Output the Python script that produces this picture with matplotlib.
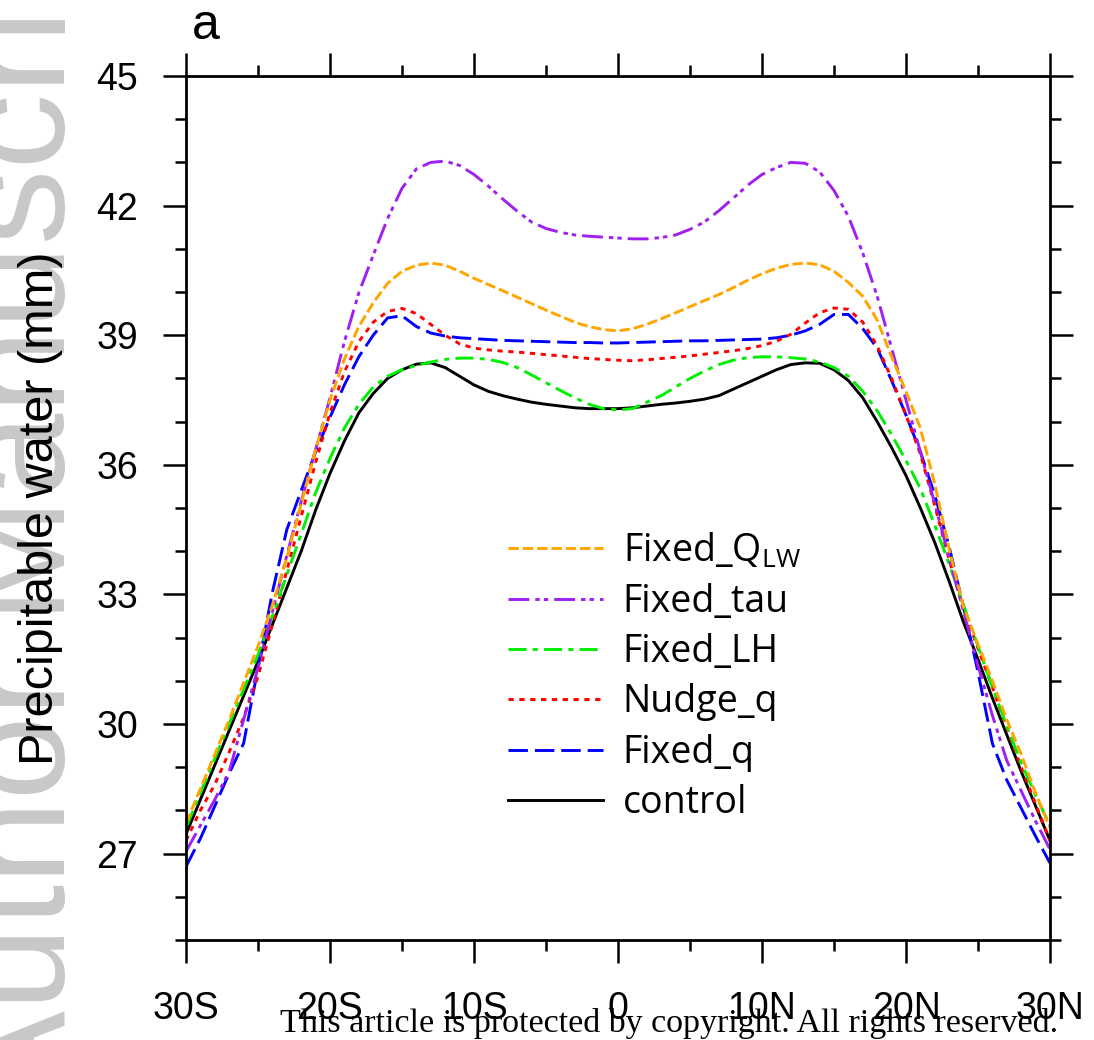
import numpy as np
import matplotlib
matplotlib.use("Agg")
import matplotlib.pyplot as plt
from matplotlib.ticker import MultipleLocator

plt.rcParams['font.family'] = ['Liberation Sans', 'DejaVu Sans']
plt.rcParams['lines.scale_dashes'] = False

# latitude, 1 degree steps
lat = list(range(-30, 31))

control = [27.45, 28.25, 29.05, 29.85, 30.65, 31.45, 32.3, 33.15, 34.0, 34.95,
           35.8, 36.55, 37.2, 37.65, 38.0, 38.2, 38.33, 38.36, 38.25, 38.05,
           37.85, 37.7, 37.6, 37.52, 37.45, 37.4, 37.36, 37.32, 37.3, 37.3,
           37.3, 37.32, 37.36, 37.4, 37.43, 37.47, 37.52, 37.6, 37.75, 37.9,
           38.05, 38.2, 38.32, 38.36, 38.35, 38.2, 37.95, 37.55, 37.0, 36.4,
           35.75, 35.0, 34.2, 33.3, 32.35, 31.5, 30.6, 29.75, 28.9, 28.1, 27.3]

fixed_lh = [27.6, 28.4, 29.2, 30.0, 30.8, 31.6, 32.5, 33.45, 34.4, 35.35,
            36.15, 36.85, 37.4, 37.8, 38.05, 38.2, 38.3, 38.38, 38.44, 38.47,
            38.47, 38.44, 38.37, 38.25, 38.08, 37.9, 37.72, 37.55, 37.4, 37.3,
            37.27, 37.3, 37.45, 37.6, 37.8, 38.0, 38.17, 38.32, 38.42, 38.48,
            38.5, 38.5, 38.48, 38.45, 38.38, 38.25, 38.05, 37.7, 37.25, 36.7,
            36.1, 35.45, 34.6, 33.7, 32.75, 31.8, 30.85, 29.95, 29.1, 28.35, 27.65]

fixed_qlw = [27.7, 28.5, 29.3, 30.1, 30.95, 31.8, 32.75, 33.85, 35.1, 36.35,
             37.5, 38.45, 39.2, 39.75, 40.2, 40.48, 40.62, 40.67, 40.62, 40.48,
             40.32, 40.17, 40.03, 39.88, 39.73, 39.58, 39.44, 39.3, 39.2, 39.13,
             39.1, 39.15, 39.25, 39.38, 39.52, 39.66, 39.8, 39.94, 40.1, 40.27,
             40.42, 40.55, 40.64, 40.67, 40.63, 40.48, 40.22, 39.9, 39.35, 38.5,
             37.7, 36.85, 35.55, 34.05, 32.7, 31.85, 31.0, 30.1, 29.3, 28.4, 27.6]

fixed_tau = [27.05, 27.65, 28.25, 28.9, 30.1, 31.3, 32.6, 33.9, 35.15, 36.35,
             37.55, 38.85, 39.98, 40.85, 41.7, 42.4, 42.85, 43.0, 43.03, 42.93,
             42.72, 42.45, 42.15, 41.87, 41.62, 41.47, 41.38, 41.32, 41.29, 41.27,
             41.25, 41.23, 41.23, 41.26, 41.32, 41.45, 41.62, 41.88, 42.17, 42.47,
             42.72, 42.88, 43.0, 42.98, 42.78, 42.35, 41.75, 40.9, 39.9, 38.7,
             37.5, 36.3, 35.1, 33.85, 32.6, 31.35, 30.2, 29.15, 28.45, 27.75, 27.1]

nudge_q = [27.3, 28.0, 28.6, 29.35, 30.15, 31.1, 32.3, 33.55, 34.8, 36.05,
           37.2, 38.15, 38.85, 39.3, 39.55, 39.62, 39.5, 39.25, 39.0, 38.8,
           38.7, 38.66, 38.63, 38.61, 38.58, 38.55, 38.52, 38.49, 38.46, 38.44,
           38.42, 38.41, 38.43, 38.46, 38.49, 38.52, 38.56, 38.6, 38.64, 38.69,
           38.76, 38.86, 39.02, 39.28, 39.52, 39.63, 39.6, 39.3, 38.75, 38.0,
           37.15, 36.25, 35.05, 33.8, 32.65, 31.75, 30.85, 29.9, 29.0, 28.15, 27.3]

fixed_q = [26.7, 27.35, 28.1, 28.86, 29.55, 31.3, 33.05, 34.5, 35.4, 36.3,
           37.1, 37.85, 38.5, 39.0, 39.4, 39.45, 39.2, 39.05, 38.98, 38.94,
           38.92, 38.9, 38.88, 38.87, 38.86, 38.85, 38.84, 38.83, 38.83, 38.82,
           38.82, 38.83, 38.84, 38.85, 38.86, 38.87, 38.87, 38.88, 38.89, 38.9,
           38.91, 38.94, 39.0, 39.1, 39.25, 39.48, 39.48, 39.15, 38.7, 37.95,
           37.15, 36.3, 35.3, 34.1, 32.7, 31.2, 29.55, 28.7, 28.05, 27.4, 26.78]

xticks = [-30, -20, -10, 0, 10, 20, 30]
xticklabels = ['30S', '20S', '10S', '0', '10N', '20N', '30N']
yticks = [27, 30, 33, 36, 39, 42, 45]

W, H = 1094, 1040
fig = plt.figure(figsize=(W / 100, H / 100), dpi=100)

# watermark on the left edge
fig.text(65 / W, (H - 1111) / H, 'Author Manuscript', rotation=90,
         rotation_mode='anchor', ha='left', va='baseline', fontsize=109,
         color='#c8c8c8', zorder=0)

ax = fig.add_axes([186 / W, 100 / H, 864 / W, 864 / H])
ax.set_facecolor('none')

lw = 2.1
l_ctl, = ax.plot(lat, control, color='black', lw=lw, label='control')
l_fq, = ax.plot(lat, fixed_q, color='blue', lw=lw, dashes=(14, 5),
                label='Fixed_q')
l_nq, = ax.plot(lat, nudge_q, color='red', lw=lw, dashes=(3.8, 4.0),
                label='Nudge_q')
l_lh, = ax.plot(lat, fixed_lh, color='#00ee00', lw=lw,
                dashes=(13, 4.5, 3.6, 4.5), label='Fixed_LH')
l_tau, = ax.plot(lat, fixed_tau, color='#a020f0', lw=lw,
                 dashes=(15, 4.3, 3.2, 2.9, 3.2, 4.3), label='Fixed_tau')
l_qlw, = ax.plot(lat, fixed_qlw, color='orange', lw=lw, dashes=(7.5, 2.8),
                 label=r'Fixed_Q$_\mathregular{LW}$')

ax.set_xlim(-30, 30)
ax.set_ylim(25, 45)
ax.set_xticks(xticks)
ax.set_xticklabels(xticklabels)
ax.xaxis.set_minor_locator(MultipleLocator(5))
ax.set_yticks(yticks)
ax.yaxis.set_minor_locator(MultipleLocator(1))
ax.tick_params(which='both', direction='out', top=True, right=True,
               labelsize=27, width=1.8, color='black')
ax.tick_params(which='major', length=16.5)
ax.tick_params(which='minor', length=8)
ax.tick_params(axis='x', which='major', pad=20)
ax.tick_params(axis='y', which='major', pad=18)
for s in ax.spines.values():
    s.set_linewidth(2.0)

fig.text(41 / W, (H - 508) / H, 'Precipitable water (mm)', fontsize=35,
         rotation=90, ha='center', va='center')

ax.legend(handles=[l_qlw, l_tau, l_lh, l_nq, l_fq, l_ctl],
          loc='upper left', bbox_to_anchor=(508 / W, (H - 531) / H),
          bbox_transform=fig.transFigure, frameon=False, borderpad=0,
          borderaxespad=0, handlelength=2.53, handletextpad=0.53,
          labelspacing=0.33, prop={'family': 'Open Sans', 'size': 27})

fig.text(192 / W, (H - 39) / H, 'a', fontsize=36, ha='left', va='baseline')

fig.text(1058 / W, (H - 1032) / H,
         'This article is protected by copyright. All rights reserved.',
         family='Liberation Serif', fontsize=24.5, ha='right', va='baseline')

fig.savefig('out.png', dpi=100)
